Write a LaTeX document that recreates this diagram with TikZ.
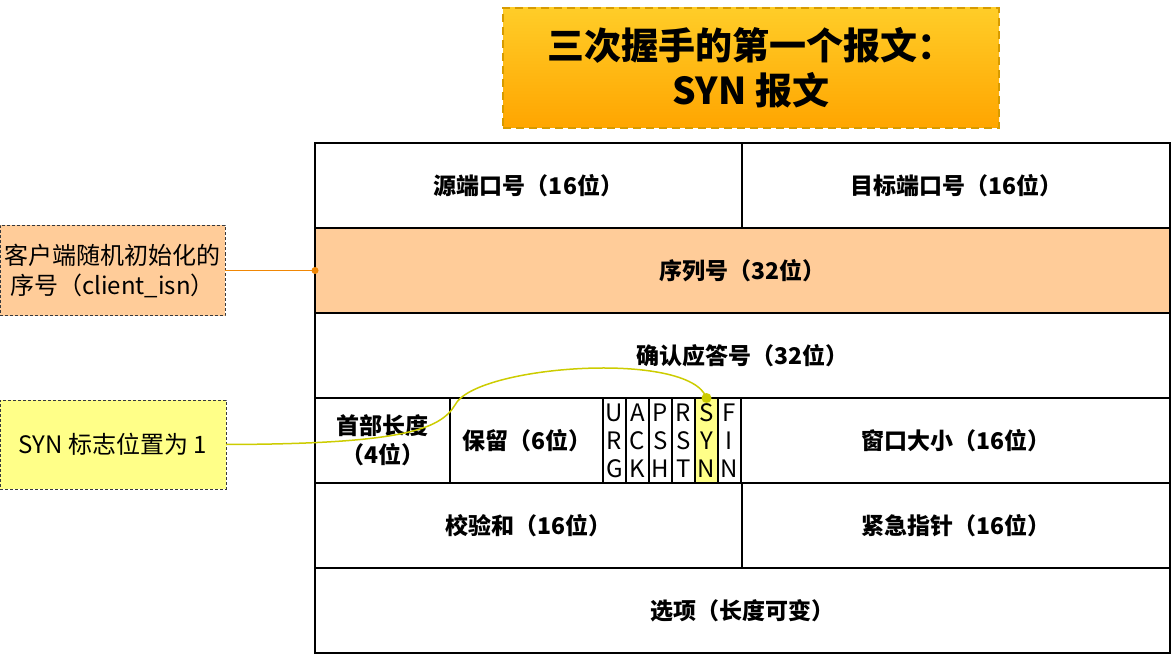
\documentclass[tikz,border=0pt]{standalone}
\usepackage{fontspec}
\setmainfont{Noto Sans CJK SC}
\usetikzlibrary{positioning}

\definecolor{peach}{HTML}{FFCC99}
\definecolor{lemon}{HTML}{FFFF88}
\definecolor{titletop}{HTML}{FFCD28}
\definecolor{titlebot}{HTML}{FFA500}
\definecolor{titleedge}{HTML}{D79B00}
\definecolor{noteedge}{HTML}{36393D}
\definecolor{isnline}{HTML}{F08705}
\definecolor{synline}{HTML}{CCCC00}

\begin{document}
\begin{tikzpicture}[
			x=1pt, y=-1pt,
			every node/.style={inner sep=0pt, outer sep=0pt, align=center},
			cell/.style={
					draw=black,
					line width=1.5pt,
					minimum height=85pt,
					font=\bfseries\fontsize{23}{29}\selectfont
				},
			flag/.style={
					draw=black,
					line width=1.5pt,
					minimum width=23pt,
					minimum height=85pt,
					font=\fontsize{24}{28}\selectfont
				},
			note/.style={
					draw=noteedge,
					dash pattern=on 3pt off 2pt,
					line width=1pt,
					minimum width=225pt,
					minimum height=90pt,
					font=\fontsize{24}{30}\selectfont
				}
		]

		\useasboundingbox (0,0) rectangle (1173,655);

		% title
		\node (title) [
			minimum width=496pt,
			minimum height=120pt,
			top color=titletop,
			bottom color=titlebot,
			draw=titleedge,
			line width=1.5pt,
			dash pattern=on 8pt off 5pt,
			font=\bfseries\fontsize{37}{45}\selectfont] at (751,68)
		{三次握手的第一个报文：\\SYN 报文};

		% header rows
		\node (srcport) [cell, minimum width=427pt] at (528.5,185.5) {源端口号（16位）};
		\node (dstport) [cell, minimum width=428pt] at (956,185.5) {目标端口号（16位）};
		\node (seq) [cell, minimum width=855pt, fill=peach] at (742.5,270.5) {序列号（32位）};
		\node (ack) [cell, minimum width=855pt] at (742.5,355.5) {确认应答号（32位）};

		\node (hdrlen) [cell, minimum width=135pt] at (382.5,440.5) {首部长度\\（4位）};
		\node (rsv) [cell, minimum width=153pt] at (526.5,440.5) {保留（6位）};
		\foreach \nm/\a/\b/\c/\col [count=\i] in {
				urg/U/R/G/white, ack/A/C/K/white, psh/P/S/H/white,
				rst/R/S/T/white, syn/S/Y/N/lemon, fin/F/I/N/white}
			\node (\nm) [flag, fill=\col] at ({591.5+23*\i},440.5) {\a\\\b\\\c};
		\node (window) [cell, minimum width=429pt] at (955.5,440.5) {窗口大小（16位）};

		\node (checksum) [cell, minimum width=427pt] at (528.5,525.5) {校验和（16位）};
		\node (urgptr) [cell, minimum width=428pt] at (956,525.5) {紧急指针（16位）};
		\node (options) [cell, minimum width=855pt] at (742.5,610.5) {选项（长度可变）};

		% notes on the left
		\node (isnnote) [note, fill=peach] at (112.5,270.5)
		{客户端随机初始化的\\序号（client\_isn）};
		\node (synnote) [note, fill=lemon, minimum width=226pt, minimum height=89pt] at (113,444.5)
		{SYN 标志位置为 1};

		\draw[isnline, line width=1pt] (isnnote.east) -- (seq.west);
		\fill[isnline] (seq.west) circle (3.5);

		\draw[synline, line width=1.5pt] (synnote.east)
		.. controls (400,444) and (440,430) .. (455,405)
		.. controls (475,365) and (690,350) .. (syn.north);
		\fill[synline] (syn.north) circle (5);

	\end{tikzpicture}
\end{document}
